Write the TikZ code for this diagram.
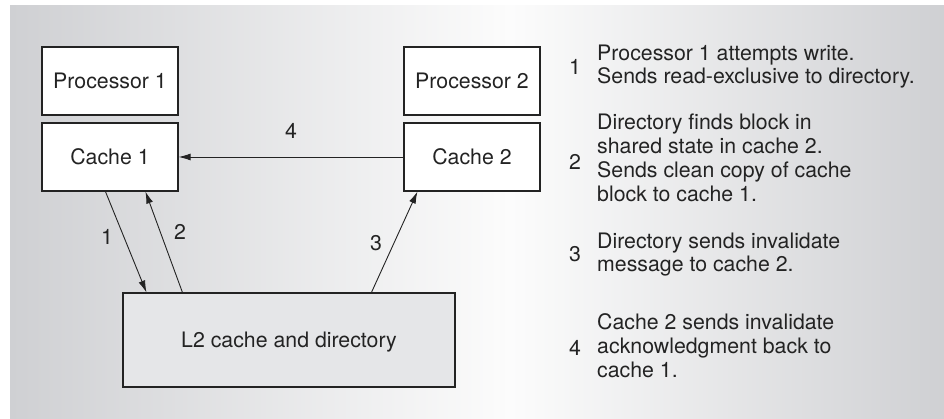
\documentclass[tikz,border=0pt]{standalone}
\usepackage{fontspec}
\setmainfont{TeX Gyre Heros}
\usetikzlibrary{arrows.meta}
\definecolor{bgside}{RGB}{207,208,211}
\definecolor{bgmid}{RGB}{252,252,252}
\definecolor{lfill}{RGB}{229,230,232}
\definecolor{ink}{RGB}{35,35,35}
\begin{document}
\begin{tikzpicture}[x=1pt,y=-1pt,
  lbl/.style={font=\fontsize{21.3}{23.7}\selectfont, text=ink, inner sep=0pt},
  box/.style={lbl, draw=ink, line width=1.1pt, fill=white, text height=15.3pt, text depth=0pt},
  arr/.style={draw=ink, line width=0.9pt, -{Latex[length=12pt,width=7pt]}},
  txt/.style={lbl, anchor=base west},
  num/.style={lbl, anchor=base}]
\useasboundingbox (0,0) rectangle (944,419);
\fill[white] (0,0) rectangle (944,419);
\shade[left color=bgside, right color=bgmid] (10,6) rectangle (510.5,418);
\shade[left color=bgmid, right color=bgside] (510,6) rectangle (944,418);

\node[box, minimum width=136pt, minimum height=68pt] (p1) at (110,81) {Processor 1};
\node[box, minimum width=136pt, minimum height=68pt] (c1) at (110,157) {Cache 1};
\node[box, minimum width=136pt, minimum height=68pt] (p2) at (472,81) {Processor 2};
\node[box, minimum width=136pt, minimum height=68pt] (c2) at (472,157) {Cache 2};
\node[box, fill=lfill, minimum width=332pt, minimum height=94pt] (l2) at (289,340) {L2 cache and directory};

\draw[arr] (c2.west) -- (c1.east);
\draw[arr] ([xshift=64pt]c1.south west) -- ([xshift=24pt]l2.north west);
\draw[arr] ([xshift=60pt]l2.north west) -- ([xshift=104pt]c1.south west);
\draw[arr] ([xshift=249pt]l2.north west) -- ([xshift=14pt]c2.south west);

\node[lbl] (n4) at (291,131) {4};
\node[lbl] (n1) at (107,237) {1};
\node[lbl] (n2) at (180,232) {2};
\node[lbl] (n3) at (376,243) {3};

\node[num] (k1) at (575,74.7) {1};
\node[txt] (t1a) at (597,61) {Processor 1 attempts write.};
\node[txt] (t1b) at (597,84) {Sends read-exclusive to directory.};

\node[num] (k2) at (575,169.7) {2};
\node[txt] (t2a) at (597,130) {Directory finds block in};
\node[txt] (t2b) at (597,154) {shared state in cache 2.};
\node[txt] (t2c) at (597,178) {Sends clean copy of cache};
\node[txt] (t2d) at (597,202) {block to cache 1.};

\node[num] (k3) at (575,261.7) {3};
\node[txt] (t3a) at (597,249) {Directory sends invalidate};
\node[txt] (t3b) at (597,272) {message to cache 2.};

\node[num] (k4) at (575,355.7) {4};
\node[txt] (t4a) at (597,329) {Cache 2 sends invalidate};
\node[txt] (t4b) at (597,353) {acknowledgment back to};
\node[txt] (t4c) at (597,377) {cache 1.};
\end{tikzpicture}
\end{document}
